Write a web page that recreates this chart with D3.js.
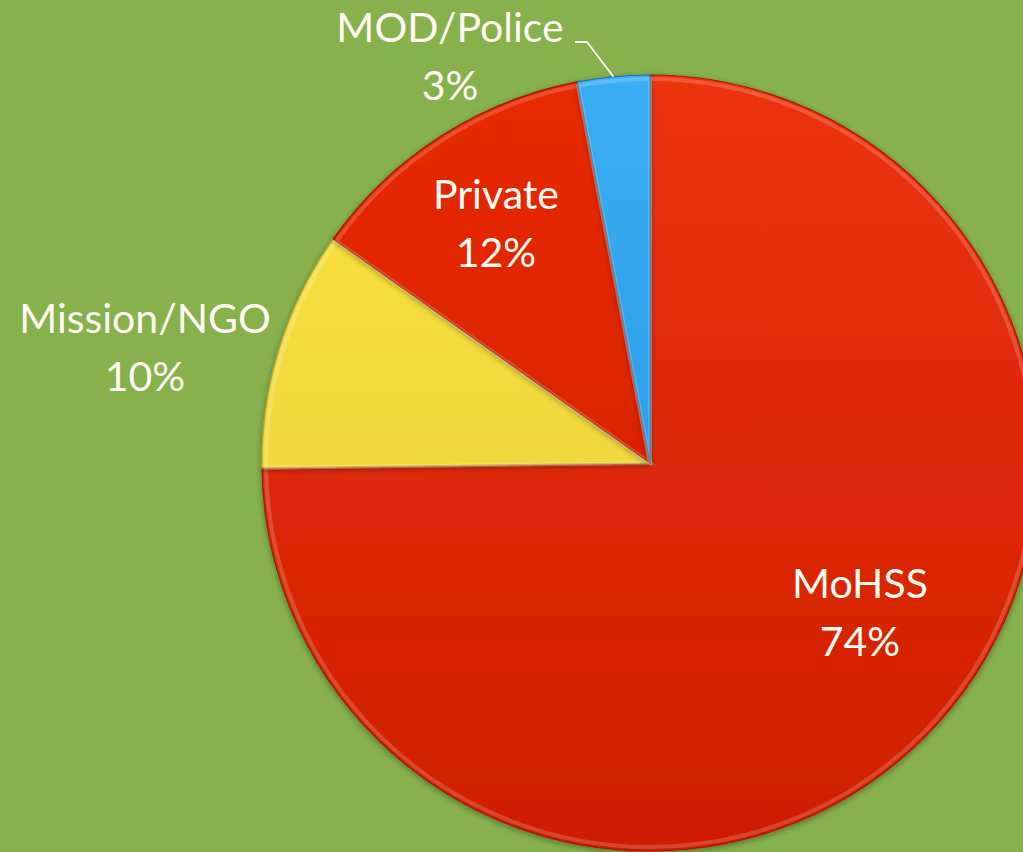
<!DOCTYPE html>
<html><head><meta charset="utf-8">
<script src="https://cdn.jsdelivr.net/npm/d3@7"></script>
<style>html,body{margin:0;padding:0;background:#86b14c;overflow:hidden}</style>
</head><body>
<svg id="c" width="1023" height="852"></svg>
<script>
const categories = ["MoHSS", "Mission/NGO", "Private", "MOD/Police"];
const values = [74.8, 10.0, 12.2, 3.0];
const pctLabels = ["74%", "10%", "12%", "3%"];

const W = 1023, H = 852, cx = 650, cy = 463, R = 388;
const colors = {
  "MoHSS": ["#ec3410", "#cf1e00"],
  "Mission/NGO": ["#fbe43e", "#e6cd3c"],
  "Private": ["#e82a04", "#cc1e00"],
  "MOD/Police": ["#3aaef4", "#1f90dc"]
};
// label layout: offset of first-line baseline from pie centre
const labelLayout = {
  "MoHSS": {dx: 210, dy: 135},
  "Mission/NGO": {dx: -505, dy: -130},
  "Private": {dx: -154, dy: -254},
  "MOD/Police": {dx: -200, dy: -421}
};
const lineGap = 58;

const svg = d3.select("#c");
svg.append("rect").attr("width", W).attr("height", H).attr("fill", "#86b14c");
const defs = svg.append("defs");
categories.forEach((c, i) => {
  const g = defs.append("linearGradient").attr("id", "g" + i)
    .attr("gradientUnits", "userSpaceOnUse")
    .attr("x1", 0).attr("y1", -R).attr("x2", 0).attr("y2", R);
  g.append("stop").attr("offset", "0").attr("stop-color", colors[c][0]);
  g.append("stop").attr("offset", "1").attr("stop-color", colors[c][1]);
});
const f = defs.append("filter").attr("id", "sh").attr("x", "-10%").attr("y", "-10%").attr("width", "120%").attr("height", "120%");
f.append("feDropShadow").attr("dx", 0).attr("dy", 2).attr("stdDeviation", 3).attr("flood-color", "#000").attr("flood-opacity", 0.35);

const pie = d3.pie().sort(null).value(d => d.v);
const data = categories.map((c, i) => ({c, v: values[i], p: pctLabels[i], i}));
const arcs = pie(data);
const arc = d3.arc().innerRadius(0).outerRadius(R);

const g = svg.append("g").attr("transform", `translate(${cx},${cy})`);
const sl = g.selectAll("g.s").data(arcs).join("g").attr("class", "s");
sl.append("path").attr("d", arc).attr("fill", d => `url(#g${d.data.i})`)
  .attr("filter", "url(#sh)")
  .attr("stroke", d => d3.color(colors[d.data.c][1]).darker(0.6)).attr("stroke-width", 1.2);
// bevel highlight
const arcIn = d3.arc().innerRadius(0).outerRadius(R - 4);
sl.append("path").attr("d", arcIn).attr("fill", "none")
  .attr("stroke", "rgba(255,255,255,0.18)").attr("stroke-width", 4);

// labels
const lbl = g.selectAll("text.l").data(arcs).join("text").attr("class", "l")
  .attr("text-anchor", "middle")
  .attr("font-family", "Lato, 'Open Sans', sans-serif")
  .attr("font-size", 41).attr("fill", "#fffaf2")
  .attr("transform", d => {
    const L = labelLayout[d.data.c];
    return `translate(${L.dx},${L.dy})`;
  });
lbl.append("tspan").attr("x", 0).attr("dy", 0).text(d => d.data.c);
lbl.append("tspan").attr("x", 0).attr("dy", lineGap).text(d => d.data.p);

// leader line for MOD/Police
const mod = arcs.find(d => d.data.c === "MOD/Police");
const midA = (mod.startAngle + mod.endAngle) / 2;
const ex = Math.sin(midA) * R, ey = -Math.cos(midA) * R;
const L = labelLayout["MOD/Police"];
g.append("polyline")
  .attr("points", [[L.dx + 125, L.dy], [L.dx + 137, L.dy], [ex, ey]].map(p => p.join(",")).join(" "))
  .attr("fill", "none").attr("stroke", "#fffaf2").attr("stroke-width", 1.8);
</script>
</body></html>
